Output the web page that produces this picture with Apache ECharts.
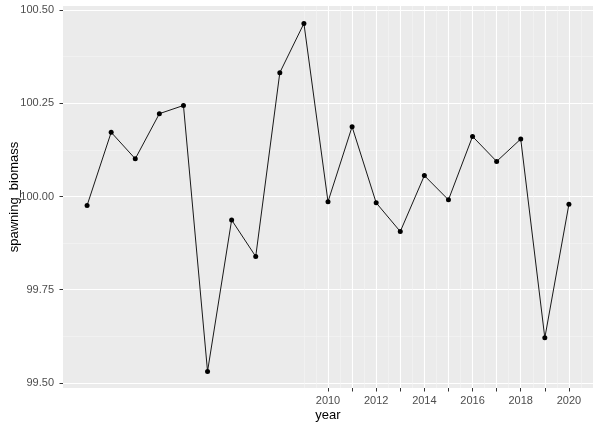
<!DOCTYPE html>
<html>
<head>
<meta charset="utf-8">
<script src="https://cdn.jsdelivr.net/npm/echarts@6/dist/echarts.min.js"></script>
<style>html,body{margin:0;padding:0;background:#fff}#c{width:600px;height:429px}</style>
</head>
<body>
<div id="c"></div>
<script>
// Data
const years = [2000, 2001, 2002, 2003, 2004, 2005, 2006, 2007, 2008, 2009, 2010,
               2011, 2012, 2013, 2014, 2015, 2016, 2017, 2018, 2019, 2020];
const spawningBiomass = [99.976, 100.172, 100.101, 100.222, 100.244, 99.531, 99.937,
                         99.839, 100.332, 100.464, 99.986, 100.187, 99.983, 99.906,
                         100.056, 99.991, 100.161, 100.094, 100.154, 99.621, 99.979];
const xTickValues = [2010, 2011, 2012, 2013, 2014, 2015, 2016, 2017, 2018, 2019, 2020];
const xLabelValues = [2010, 2012, 2014, 2016, 2018, 2020];
const xMinorValues = [2009, 2009.5, 2010.5, 2011.5, 2012.5, 2013.5, 2014.5, 2015.5,
                      2016.5, 2017.5, 2018.5, 2019.5, 2020.5];
const yTickValues = [99.5, 99.75, 100.0, 100.25, 100.5];
const yMinorValues = [99.625, 99.875, 100.125, 100.375];

const X_MIN = 1999, X_MAX = 2021;
const Y_MIN = 99.4865, Y_MAX = 100.5107;

const chart = echarts.init(document.getElementById('c'), null, {renderer: 'canvas'});
const font = 'Liberation Sans, Arial, sans-serif';

const minorLine = {show: true, lineStyle: {color: '#F5F5F5', width: 0.6}};
const majorLine = {show: true, lineStyle: {color: '#FFFFFF', width: 1.1}};

chart.setOption({
  animation: false,
  grid: {left: 63, right: 7, top: 6, bottom: 41, show: true, containLabel: false,
         outerBoundsMode: 'none',
         backgroundColor: '#EBEBEB', borderWidth: 0},
  xAxis: [
    { // minor gridlines
      type: 'value', min: X_MIN, max: X_MAX, position: 'bottom',
      axisLine: {show: false},
      axisTick: {show: false, customValues: xMinorValues},
      axisLabel: {show: false, customValues: xMinorValues},
      splitLine: minorLine
    },
    { // major axis
      type: 'value', min: X_MIN, max: X_MAX, position: 'bottom',
      name: 'year', nameLocation: 'middle', nameGap: 21, nameMoveOverlap: false,
      nameTextStyle: {color: '#000', fontSize: 13, fontFamily: font},
      axisLine: {show: false},
      axisTick: {show: true, length: 3.5, customValues: xTickValues,
                 lineStyle: {color: '#333333', width: 1}},
      axisLabel: {show: true, customValues: xLabelValues, margin: 7,
                  color: '#4D4D4D', fontSize: 11, fontFamily: font,
                  formatter: v => String(v)},
      splitLine: majorLine
    }
  ],
  yAxis: [
    {
      type: 'value', min: Y_MIN, max: Y_MAX,
      axisLine: {show: false},
      axisTick: {show: false, customValues: yMinorValues},
      axisLabel: {show: false, customValues: yMinorValues},
      splitLine: minorLine
    },
    {
      type: 'value', min: Y_MIN, max: Y_MAX, position: 'left',
      name: 'spawning_biomass', nameLocation: 'middle', nameGap: 42, nameMoveOverlap: false,
      nameTextStyle: {color: '#000', fontSize: 13, fontFamily: font},
      axisLine: {show: false},
      axisTick: {show: true, length: 3.5, customValues: yTickValues,
                 lineStyle: {color: '#333333', width: 1}},
      axisLabel: {show: true, customValues: yTickValues, margin: 9,
                  color: '#4D4D4D', fontSize: 11, fontFamily: font,
                  formatter: v => v.toFixed(2)},
      splitLine: majorLine
    }
  ],
  series: [{
    type: 'line', xAxisIndex: 1, yAxisIndex: 1,
    data: years.map((y, i) => [y, spawningBiomass[i]]),
    symbol: 'circle', symbolSize: 5, showSymbol: true,
    lineStyle: {color: '#000', width: 0.9},
    itemStyle: {color: '#000'},
    z: 5
  }]
});
</script>
</body>
</html>
